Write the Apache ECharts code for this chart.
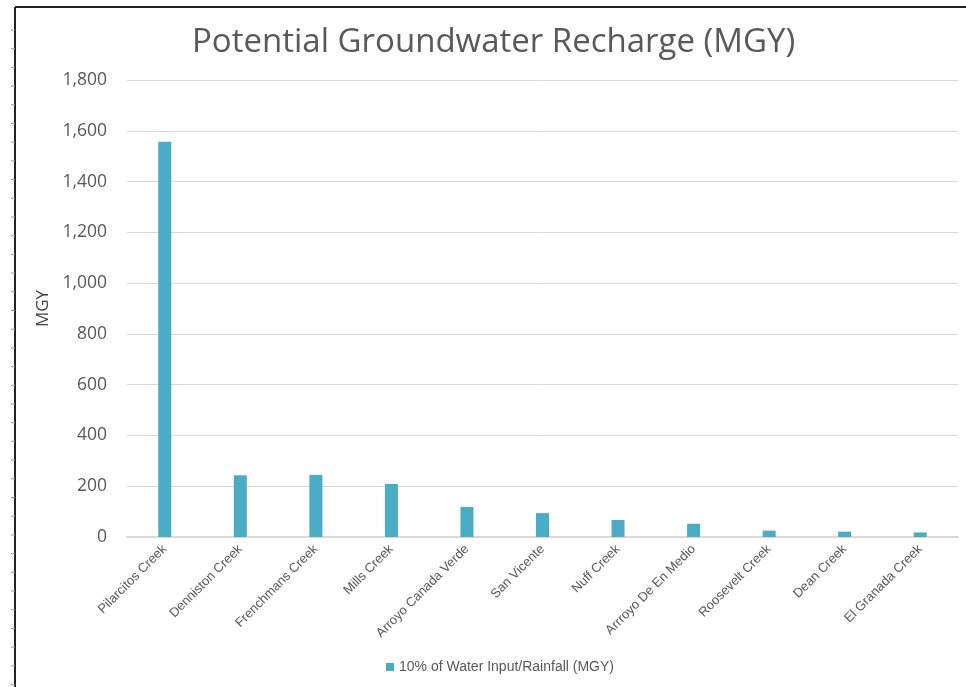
<!DOCTYPE html>
<html><head><meta charset="utf-8">
<script src="https://cdn.jsdelivr.net/npm/echarts@6/dist/echarts.min.js"></script>
<style>html,body{margin:0;padding:0;background:#fff}#c{width:966px;height:687px}</style>
</head><body><div id="c"></div>
<script>
const categories = ["Pilarcitos Creek","Denniston Creek","Frenchmans Creek","Mills Creek","Arroyo Canada Verde","San Vicente","Nuff Creek","Arrroyo De En Medio","Roosevelt Creek","Dean Creek","El Granada Creek"];
const recharge = [1557, 243, 245, 209, 118, 94, 67, 52, 25, 21, 18];
const seriesName = "10% of Water Input/Rainfall (MGY)";

const ticks = [];
for (let y = 30; y < 687; y += 18.7) ticks.push({type:'line', shape:{x1:11,y1:y,x2:15,y2:y}, style:{stroke:'#999',lineWidth:1}});

const chart = echarts.init(document.getElementById('c'));
chart.setOption({
  animation:false,
  title:{text:'Potential Groundwater Recharge (MGY)', left:187, top:21,
    textStyle:{fontFamily:'Open Sans', fontSize:33, fontWeight:'normal', color:'#595959'}},
  grid:{left:127, right:8, top:80, bottom:150},
  legend:{bottom:8, left:381, itemWidth:8, itemHeight:8, icon:'rect', itemGap:5,
    textStyle:{fontFamily:'Liberation Sans', fontSize:14, color:'#595959'}},
  xAxis:{type:'category', data:categories,
    axisLine:{lineStyle:{color:'#d9d9d9', width:2}}, axisTick:{show:false},
    axisLabel:{rotate:45, interval:0, fontFamily:'Liberation Sans', fontSize:13, color:'#595959', margin:10}},
  yAxis:{type:'value', min:0, max:1800, interval:200, name:'MGY', nameLocation:'middle', nameGap:70,
    nameTextStyle:{fontFamily:'Open Sans', fontSize:17, color:'#404040'},
    axisLine:{show:false}, axisTick:{show:false},
    axisLabel:{fontFamily:'Open Sans', fontSize:17.5, color:'#595959', margin:20,
      formatter:v=>v.toLocaleString('en-US')},
    splitLine:{lineStyle:{color:'#d9d9d9', width:1}}},
  series:[{name:seriesName, type:'bar', data:recharge, barWidth:13,
    itemStyle:{color:'#4bacc6'}}],
  graphic:[
    {type:'line', shape:{x1:15,y1:7,x2:966,y2:7}, style:{stroke:'#222',lineWidth:2}},
    {type:'line', shape:{x1:15,y1:7,x2:15,y2:687}, style:{stroke:'#222',lineWidth:2}},
    ...ticks
  ]
});
</script></body></html>
